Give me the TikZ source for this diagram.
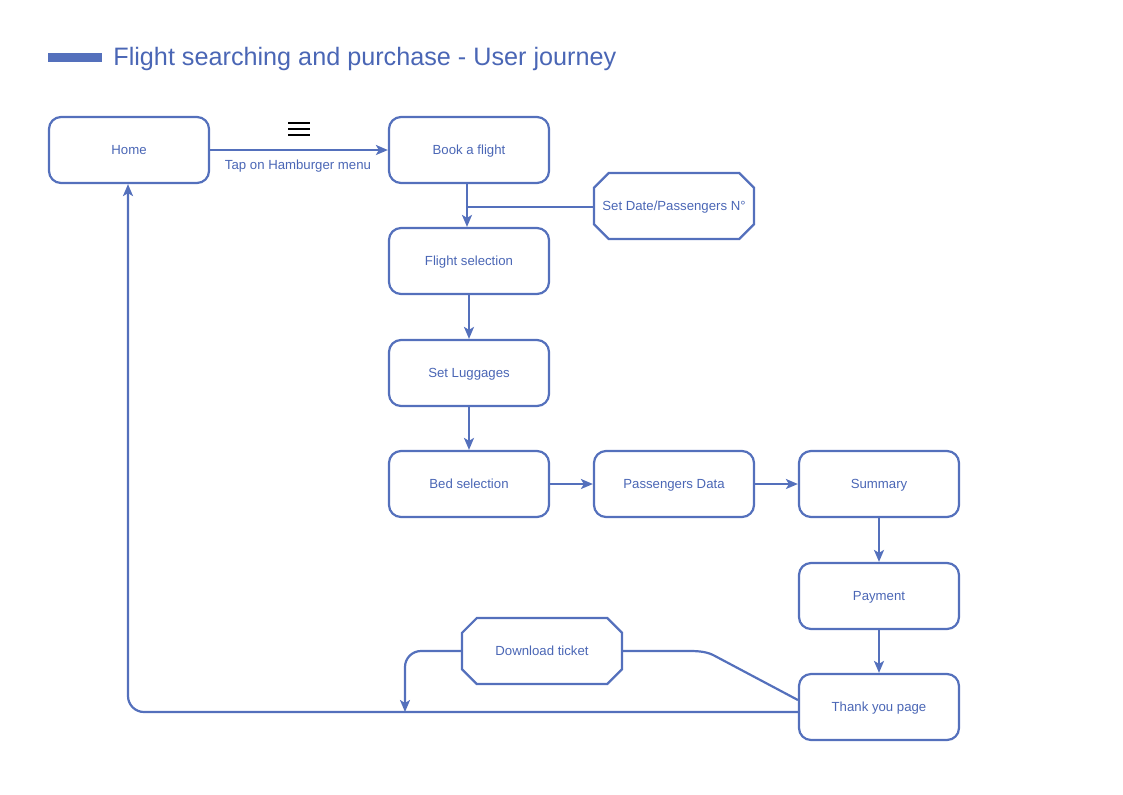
\documentclass[tikz,border=0pt]{standalone}
\usepackage{fontspec}
\setmainfont{Liberation Sans}
\usetikzlibrary{shapes.misc,arrows.meta}
\definecolor{fc}{HTML}{5470BC}
\definecolor{tc}{HTML}{4A66B5}
\begin{document}
\begin{tikzpicture}[x=0.5pt,y=-0.5pt,
  box/.style={draw=fc,line width=1.1pt,rounded corners=6pt,minimum width=80pt,minimum height=33pt,text=tc,font=\fontsize{6.6}{8}\selectfont,inner sep=0pt,text depth=0pt},
  oct/.style={draw=fc,line width=1.1pt,chamfered rectangle,chamfered rectangle xsep=5pt,chamfered rectangle ysep=5pt,minimum width=80pt,minimum height=33pt,text=tc,font=\fontsize{6.6}{8}\selectfont,inner sep=0pt,text depth=0pt},
  conn/.style={draw=fc,line width=1.1pt},
  arr/.style={conn,-{Stealth[length=6pt,width=5pt,inset=1.5pt]}}]
\useasboundingbox (0,0) rectangle (1123,794);
\fill[fc] (48,53) rectangle (102,62);
\node[anchor=west,text=tc,font=\fontsize{12.6}{14}\selectfont,inner sep=0pt] (title) at (113,59) {Flight searching and purchase - User journey};
\node[box] (home) at (129,150) {Home};
\node[box] (book) at (469,150) {Book a flight};
\node[oct] (date) at (674,206) {Set Date/Passengers N°};
\node[box] (fsel) at (469,261) {Flight selection};
\node[box] (lugg) at (469,373) {Set Luggages};
\node[box] (bed) at (469,484) {Bed selection};
\node[box] (pdata) at (674,484) {Passengers Data};
\node[box] (summ) at (879,484) {Summary};
\node[box] (pay) at (879,596) {Payment};
\node[box] (thanks) at (879,707) {Thank you page};
\node[oct] (dl) at (542,651) {Download ticket};
% hamburger icon
\foreach \yy in {123,129,135}{\draw[black,line width=1.4pt] (288,\yy) -- (310,\yy);}
\node[text=tc,font=\fontsize{6.6}{8}\selectfont,inner sep=0pt] (taplbl) at (298,166) {Tap on Hamburger menu};
\draw[arr] (home) -- (book);
\draw[arr] (book.south -| 467,0) coordinate (bs) -- (fsel.north -| bs);
\coordinate (dj) at (467,207);
\draw[conn] (date.west |- dj) -- (dj);
\draw[arr] (fsel) -- (lugg);
\draw[arr] (lugg) -- (bed);
\draw[arr] (bed) -- (pdata);
\draw[arr] (pdata) -- (summ);
\draw[arr] (summ) -- (pay);
\draw[arr] (pay) -- (thanks);
\coordinate (tl) at (799,712);
\draw[arr,rounded corners=8pt] (thanks.west |- tl) -- (128,712) -- (home.south -| 128,0);
\coordinate (td) at (799,700);
\draw[conn] (thanks.west |- td) -- (715,656) .. controls (708,652) and (700,651) .. (690,651) -- (dl.east);
\coordinate (dd) at (405,712);
\draw[arr,rounded corners=8pt] (dl.west) -- (405,651) -- (dd);
\end{tikzpicture}
\end{document}
